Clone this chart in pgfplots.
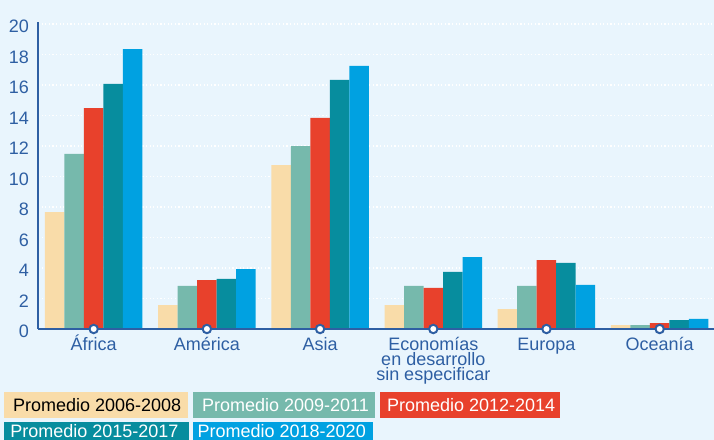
\documentclass[border=0pt]{standalone}
\usepackage{fontspec}
\setmainfont{Liberation Sans}
\usepackage{pgfplots}
\pgfplotsset{compat=1.18}
\definecolor{bg}{HTML}{E9F5FD}
\definecolor{axisblue}{HTML}{2E5FA3}
\definecolor{cA}{HTML}{F9DCA9}
\definecolor{cB}{HTML}{76B9AC}
\definecolor{cC}{HTML}{E8412C}
\definecolor{cD}{HTML}{078D9E}
\definecolor{cE}{HTML}{00A1E1}
\begin{document}
\begin{tikzpicture}
\useasboundingbox (0,0) rectangle (357pt,220pt);
\clip (0,0) rectangle (357pt,220pt);
\fill[bg] (0,0) rectangle (357pt,220pt);
\begin{axis}[
  at={(19pt,55.5pt)}, anchor=south west,
  scale only axis, width=338pt, height=153.25pt,
  xmin=-0.492, xmax=5.48, ymin=0, ymax=20.1,
  axis lines*=left,
  axis line style={axisblue, line width=1pt},
  ytick={0,2,...,20},
  xtick={0,1,2,3,4,5},
  xticklabels={{\rule{0pt}{8pt}África},{\rule{0pt}{8pt}América},{\rule{0pt}{8pt}Asia},{\rule{0pt}{8pt}Economías\\en desarrollo\\sin especificar},{\rule{0pt}{8pt}Europa},{\rule{0pt}{8pt}Oceanía}},
  major tick length=0pt,
  ymajorgrids,
  grid style={white, line width=0.6pt, dash pattern=on 0.6pt off 1.2pt},
  tick label style={font=\fontsize{9}{7.5}\selectfont, text=axisblue},
  xticklabel style={align=center, anchor=north, yshift=0.75pt},
  yticklabel style={yshift=-1.3pt, xshift=-1pt},
  /pgf/number format/assume math mode=true,
  clip=false,
]
\addplot[ybar, bar width=9.75pt, bar shift=-19.5pt, fill=cA, draw=none]
  coordinates {(0,7.67) (1,1.57) (2,10.75) (3,1.57) (4,1.31) (5,0.26)};
\addplot[ybar, bar width=9.75pt, bar shift=-9.75pt, fill=cB, draw=none]
  coordinates {(0,11.48) (1,2.82) (2,12.0) (3,2.82) (4,2.82) (5,0.26)};
\addplot[ybar, bar width=9.75pt, bar shift=0pt, fill=cC, draw=none]
  coordinates {(0,14.49) (1,3.21) (2,13.84) (3,2.69) (4,4.52) (5,0.39)};
\addplot[ybar, bar width=9.75pt, bar shift=9.75pt, fill=cD, draw=none]
  coordinates {(0,16.07) (1,3.28) (2,16.33) (3,3.74) (4,4.33) (5,0.59)};
\addplot[ybar, bar width=9.75pt, bar shift=19.5pt, fill=cE, draw=none]
  coordinates {(0,18.36) (1,3.93) (2,17.25) (3,4.72) (4,2.89) (5,0.66)};
\addplot[axisblue, line width=1pt, no marks] coordinates {(-0.492,0) (5.48,0)};
\addplot[only marks, mark=*, mark size=2.1pt, mark options={fill=white, draw=axisblue, line width=1pt}]
  coordinates {(0,0) (1,0) (2,0) (3,0) (4,0) (5,0)};
\end{axis}
% legend boxes
\fill[cA] (2pt,11.15pt) rectangle (94.15pt,23.85pt);
\fill[cB] (96.35pt,11.15pt) rectangle (187.5pt,23.85pt);
\fill[cC] (190pt,11.15pt) rectangle (280pt,23.85pt);
\fill[cD] (2pt,-5pt) rectangle (94.65pt,9.15pt);
\fill[cE] (96.65pt,-5pt) rectangle (186.65pt,9.15pt);
\begin{scope}[every node/.style={anchor=base west, inner sep=0pt, font=\fontsize{9}{10}\selectfont}]
\node[text=black] at (6.35pt,14.25pt) {Promedio 2006-2008};
\node[text=white] at (100.85pt,14.25pt) {Promedio 2009-2011};
\node[text=white] at (193.35pt,14.25pt) {Promedio 2012-2014};
\node[text=white] at (5pt,1.2pt) {Promedio 2015-2017};
\node[text=white] at (98.65pt,1.2pt) {Promedio 2018-2020};
\end{scope}
\end{tikzpicture}
\end{document}
